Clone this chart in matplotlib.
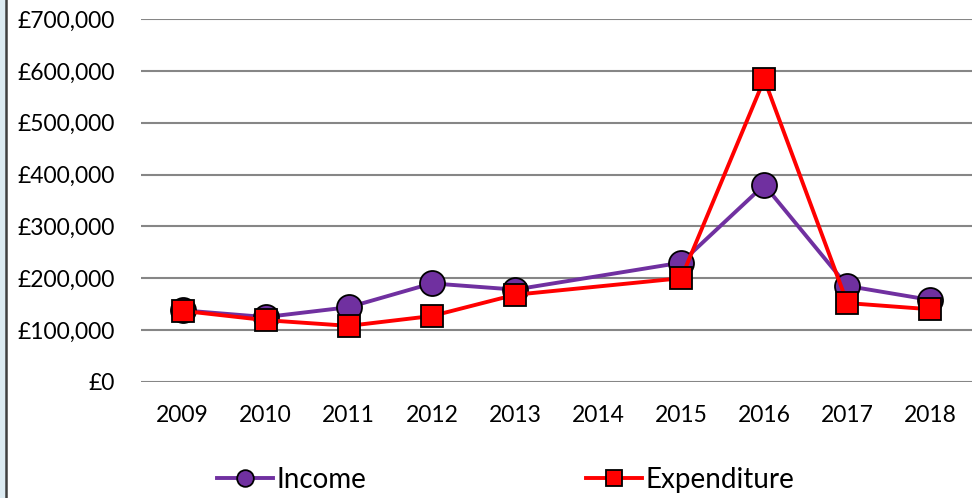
import matplotlib
matplotlib.use("Agg")
import matplotlib.pyplot as plt
from matplotlib.lines import Line2D
from matplotlib.ticker import FuncFormatter
import numpy as np

plt.rcParams['font.family'] = ['Lato', 'DejaVu Sans']

# data (2014 has no value)
years = ['2009', '2010', '2011', '2012', '2013', '2014', '2015', '2016', '2017', '2018']
income = [138000, 125000, 144000, 190000, 178000, np.nan, 230000, 380000, 185000, 158000]
expenditure = [137000, 119000, 108000, 127000, 168000, np.nan, 200000, 584000, 152000, 140000]

purple = '#7030A0'
red = '#FF0000'

x = np.arange(len(years))

fig = plt.figure(figsize=(9.74, 4.98), dpi=100)
ax = fig.add_axes([141/974, 1 - 381.8/498, 831/974, (381.8 - 19.2)/498])

# skip the missing year but keep the line joined across it
ok_i = ~np.isnan(income)
ok_e = ~np.isnan(expenditure)
ax.plot(x[ok_i], np.array(income)[ok_i], color=purple, lw=2.8, marker='o',
        ms=18, mfc=purple, mec='black', mew=1.3, zorder=3)
ax.plot(x[ok_e], np.array(expenditure)[ok_e], color=red, lw=2.8, marker='s',
        ms=15.5, mfc=red, mec='black', mew=1.3, zorder=4)

ax.set_xlim(-0.5, len(years) - 0.5)
ax.set_ylim(0, 700000)
ax.set_xticks(x)
ax.set_xticklabels(years)
ax.set_yticks(np.arange(0, 700001, 100000))
ax.yaxis.set_major_formatter(FuncFormatter(lambda v, p: '£{:,.0f}'.format(v)))
ax.grid(axis='y', color='#868686', lw=1.5)
ax.set_axisbelow(True)
for s in ax.spines.values():
    s.set_visible(False)
ax.tick_params(axis='both', length=0, labelsize=16.5, colors='black')
ax.tick_params(axis='y', pad=19)
ax.tick_params(axis='x', pad=17)

handles = [
    Line2D([], [], color=purple, lw=2.8, marker='o', ms=12, mfc=purple, mec='black', mew=1.3),
    Line2D([], [], color=red, lw=2.8, marker='s', ms=11.5, mfc=red, mec='black', mew=1.3),
]
fig.legend(handles, ['Income', 'Expenditure'], loc='center',
           bbox_to_anchor=(506/974, 1 - 480/498), ncol=2, frameon=False,
           fontsize=20, handlelength=2.0, handletextpad=0.15, columnspacing=7.9)

# left frame edge
fig.add_artist(Line2D([6/974, 6/974], [0, 1], color='#404040', lw=1.8))
fig.patches.append(plt.Rectangle((0, 0), 5/974, 1, transform=fig.transFigure,
                                 color='#DCEBF2', zorder=0))

fig.savefig('out.png', dpi=100)
